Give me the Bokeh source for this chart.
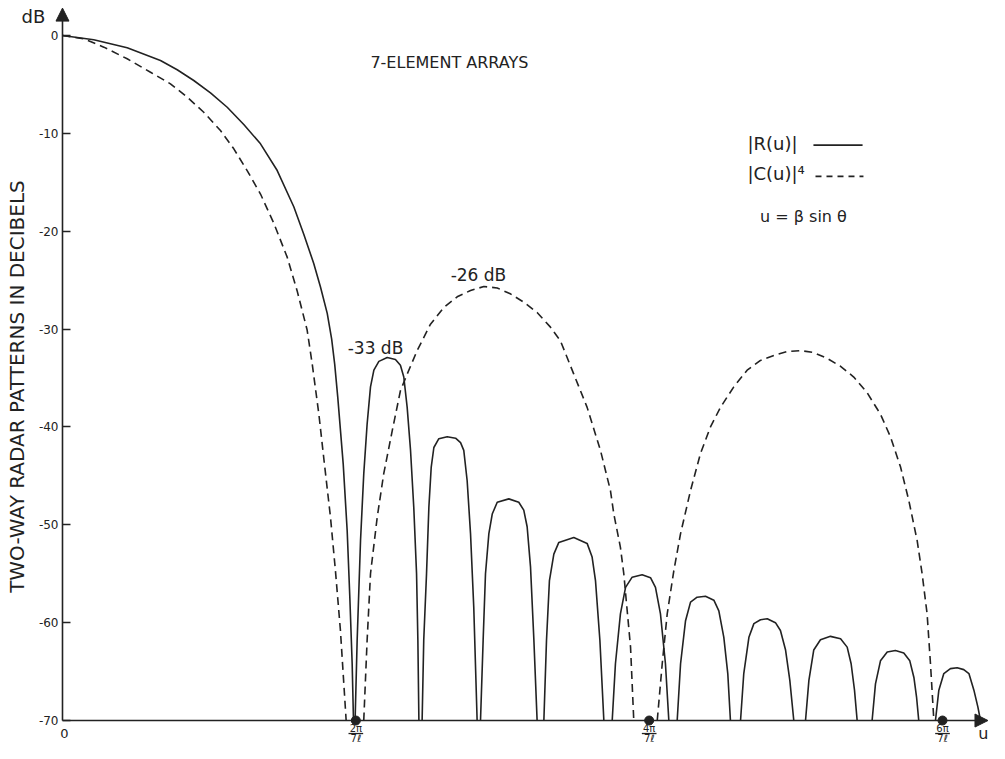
import math
from bokeh.plotting import figure
from bokeh.models import Range1d, Label, Arrow, NormalHead, FixedTicker, LinearAxis
from bokeh.embed import file_html
from bokeh.resources import INLINE

# u in units of pi/(7 l); tick labels 2pi/7l, 4pi/7l, 6pi/7l
x_ticks = [2, 4, 6]
x_tick_num = ["2\u03c0", "4\u03c0", "6\u03c0"]
x_tick_den = ["7\u2113", "7\u2113", "7\u2113"]
y_ticks = [0, -10, -20, -30, -40, -50, -60, -70]
y_tick_labels = ["0", "-10", "-20", "-30", "-40", "-50", "-60", "-70"]

# |R(u)| main lobe (solid)
r_main_u = [0, 0.213, 0.441, 0.668, 0.782, 0.895, 1.009, 1.123, 1.236, 1.35, 1.464, 1.577, 1.645,
            1.713, 1.759, 1.805, 1.835, 1.856, 1.877, 1.914, 1.941, 1.959, 1.975, 1.984]
r_main_db = [0, -0.44, -1.26, -2.55, -3.5, -4.6, -5.86, -7.33, -9.1, -11.07, -13.8, -17.5, -20.3,
             -23.3, -25.7, -28.4, -31.0, -33.6, -37.0, -43.8, -50.6, -57.4, -64.2, -70]

# |R(u)| sidelobes (solid)
r_side_u = [
    [1.995, 2.009, 2.032, 2.054, 2.077, 2.1, 2.123, 2.157, 2.214, 2.27, 2.304, 2.327, 2.35, 2.373, 2.395, 2.414, 2.423, 2.43],
    [2.452, 2.463, 2.482, 2.498, 2.514, 2.532, 2.566, 2.623, 2.68, 2.714, 2.736, 2.759, 2.782, 2.804, 2.827],
    [2.85, 2.868, 2.884, 2.907, 2.93, 2.964, 3.043, 3.111, 3.145, 3.168, 3.191, 3.214, 3.236],
    [3.282, 3.3, 3.32, 3.35, 3.384, 3.486, 3.577, 3.611, 3.634, 3.664, 3.691],
    [3.748, 3.77, 3.804, 3.839, 3.884, 3.952, 4.009, 4.043, 4.077, 4.111, 4.134],
    [4.191, 4.214, 4.248, 4.282, 4.327, 4.384, 4.441, 4.475, 4.509, 4.536, 4.554],
    [4.623, 4.645, 4.68, 4.714, 4.759, 4.805, 4.861, 4.895, 4.93, 4.959, 4.986],
    [5.066, 5.089, 5.122, 5.168, 5.236, 5.305, 5.35, 5.377, 5.4, 5.418],
    [5.52, 5.543, 5.577, 5.623, 5.679, 5.736, 5.777, 5.805, 5.823, 5.838],
    [5.952, 5.975, 6.009, 6.054, 6.1, 6.145, 6.18, 6.214, 6.241, 6.259],
]
r_side_db = [
    [-70, -61.8, -51.6, -44.8, -39.7, -35.9, -34.2, -33.3, -32.9, -33.1, -33.7, -34.9, -38.0, -42.4, -48.2, -55, -61.8, -70],
    [-70, -61.8, -55, -48.2, -44.1, -42.1, -41.2, -41.0, -41.15, -41.6, -42.4, -45.5, -50.9, -58.4, -70],
    [-70, -61.8, -55, -50.9, -48.9, -47.7, -47.35, -47.7, -48.5, -50.2, -54.3, -61.8, -70],
    [-70, -61.8, -55.7, -53.0, -51.8, -51.3, -51.9, -53.3, -55.7, -61.8, -70],
    [-70, -64.2, -59.1, -56.4, -55.35, -55.1, -55.4, -56.4, -59.1, -64.2, -70],
    [-70, -64.2, -59.8, -57.9, -57.4, -57.3, -57.7, -58.8, -61.5, -65.2, -70],
    [-70, -65.2, -61.5, -60.1, -59.7, -59.6, -60.0, -60.8, -62.8, -65.9, -70],
    [-70, -65.9, -62.8, -61.75, -61.4, -61.65, -62.5, -64.2, -66.9, -70],
    [-70, -66.25, -63.9, -63.0, -62.85, -63.1, -63.9, -65.6, -67.6, -70],
    [-70, -66.9, -65.2, -64.7, -64.6, -64.8, -65.2, -66.9, -68.6, -70],
]

# |C(u)|^4 lobes (dashed)
c_lobes_u = [
    [0, 0.145, 0.282, 0.441, 0.6, 0.736, 0.85, 0.963, 1.077, 1.168, 1.259, 1.35, 1.441, 1.532, 1.6,
     1.668, 1.702, 1.748, 1.786, 1.827, 1.861, 1.895, 1.934],
    [2.054, 2.077, 2.1, 2.146, 2.19, 2.248, 2.304, 2.35, 2.418, 2.509, 2.6, 2.691, 2.782, 2.873, 2.964,
     3.054, 3.145, 3.236, 3.327, 3.395, 3.486, 3.577, 3.668, 3.736, 3.759, 3.804, 3.827, 3.873, 3.895],
    [4.055, 4.089, 4.123, 4.168, 4.214, 4.282, 4.35, 4.418, 4.486, 4.577, 4.668, 4.759, 4.85, 4.941,
     5.032, 5.122, 5.214, 5.305, 5.395, 5.486, 5.577, 5.645, 5.714, 5.77, 5.827, 5.861, 5.895, 5.918, 5.941],
]
c_lobes_db = [
    [0, -0.34, -1.19, -2.38, -3.75, -4.94, -6.3, -7.84, -9.71, -11.58, -13.8, -16.2, -19.2, -22.65, -26.1,
     -30.1, -33.5, -38.7, -43.8, -49.2, -54.7, -60.8, -70],
    [-70, -61.8, -55, -49.2, -44.8, -40.4, -36.3, -34.6, -32.2, -29.5, -27.8, -26.7, -26.06, -25.65, -25.8,
     -26.4, -27.25, -28.3, -29.8, -31.2, -34.6, -38.0, -42.4, -46.5, -48.9, -52.3, -55, -62.5, -70],
    [-70, -64.2, -59.1, -54.7, -50.9, -46.5, -42.7, -40.0, -38.0, -35.9, -34.2, -33.2, -32.7, -32.3,
     -32.2, -32.4, -33.0, -33.8, -34.9, -36.5, -38.7, -41.0, -44.1, -47.5, -51.6, -55.0, -59.1, -64.2, -70],
]

FONT = "DejaVu Sans"
INK = "#222222"

p = figure(width=989, height=743, output_backend="svg", toolbar_location=None,
           x_range=Range1d(-0.4227, 6.3204), y_range=Range1d(-72.348, 3.5766),
           x_axis_location=None, y_axis_location=None,
           min_border_left=0, min_border_right=0, min_border_top=0, min_border_bottom=0)
p.grid.visible = False
p.outline_line_color = None
p.background_fill_color = "white"

ax = LinearAxis(fixed_location=0)
ax.ticker = FixedTicker(ticks=y_ticks)
ax.major_label_overrides = {t: s for t, s in zip(y_ticks, y_tick_labels)}
ax.axis_line_color = None
ax.major_tick_in = 8
ax.major_tick_out = 0
ax.minor_tick_line_color = None
ax.major_tick_line_color = INK
ax.major_tick_line_width = 1.3
ax.major_label_standoff = 4
ax.major_label_text_font = FONT
ax.major_label_text_font_size = "12px"
ax.major_label_text_color = INK
p.add_layout(ax, "left")

# axes drawn as arrows
p.add_layout(Arrow(end=NormalHead(size=13, fill_color=INK, line_color=INK), x_start=0, y_start=-70,
                   x_end=0, y_end=2.8, line_color=INK, line_width=1.6))
p.add_layout(Arrow(end=NormalHead(size=13, fill_color=INK, line_color=INK), x_start=0, y_start=-70,
                   x_end=6.31, y_end=-70, line_color=INK, line_width=1.6))

# curves
p.line(r_main_u, r_main_db, line_color=INK, line_width=1.6)
p.multi_line(r_side_u, r_side_db, line_color=INK, line_width=1.6)
p.multi_line(c_lobes_u, c_lobes_db, line_color=INK, line_width=1.6, line_dash="8 5")

# markers on the u axis
p.scatter(x_ticks, [-70] * len(x_ticks), size=9, color=INK)

def lab(x, y, text, size, align="center", angle=0.0, baseline="middle"):
    p.add_layout(Label(x=x, y=y, text=text, text_font=FONT, text_font_size=size,
                       text_color=INK, text_align=align, text_baseline=baseline, angle=angle))

for xt, num, den in zip(x_ticks, x_tick_num, x_tick_den):
    lab(xt, -70.82, num, "10px")
    lab(xt, -71.79, den, "10px")
    p.add_layout(Arrow(end=None, x_start=xt - 0.05, y_start=-71.33, x_end=xt + 0.05, y_end=-71.33,
                       line_color=INK, line_width=1.3))

lab(0.0136, -71.33, "0", "13px")
lab(6.313, -71.33, "u", "16px", align="right")
lab(-0.198, 1.94, "dB", "18px")
lab(-0.3136, -35.87, "TWO-WAY RADAR PATTERNS IN DECIBELS", "20px", angle=math.pi / 2)
lab(2.638, -2.76, "7-ELEMENT ARRAYS", "16px")
lab(2.134, -31.9, "-33 dB", "17px")
lab(2.836, -24.5, "-26 dB", "17px")

# legend
lab(4.67, -11.0, "|R(u)|", "18px", align="left")
lab(4.67, -14.1, "|C(u)|\u2074", "18px", align="left")
lab(5.052, -18.5, "u = \u03b2 sin \u03b8", "16px")
p.segment(x0=[5.12], y0=[-11.2], x1=[5.455], y1=[-11.2], line_color=INK, line_width=1.6)
p.segment(x0=[5.134], y0=[-14.4], x1=[5.461], y1=[-14.4], line_color=INK, line_width=1.6, line_dash="6 5")

open("out.html", "w").write(file_html(p, INLINE))
